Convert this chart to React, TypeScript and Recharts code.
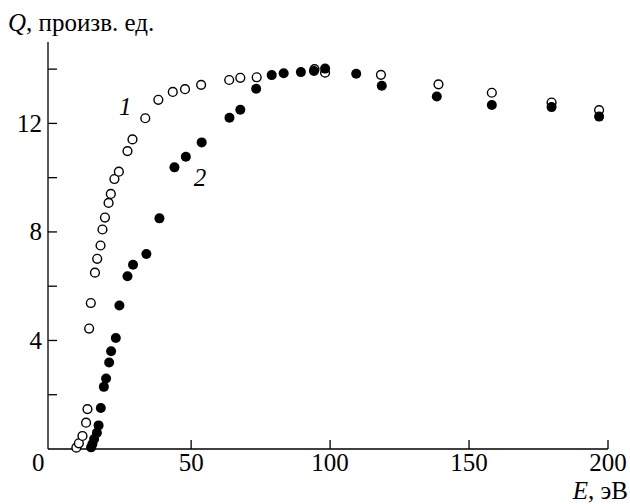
import { ScatterChart, Scatter, XAxis, YAxis, ReferenceDot, Label } from 'recharts';

// curve 1 (open circles)
const openE = [
  8.7, 9.6, 10.9, 12.2, 12.7, 13.3, 13.9, 15.4, 16.2, 17.4, 18.1, 19.0, 20.3, 21.1, 22.4, 24.0,
  27.1, 28.9, 33.5, 38.2, 43.4, 47.8, 53.6, 63.7, 67.7, 73.6, 94.4, 98.2, 118.3, 139.0, 158.2,
  179.7, 196.8,
];
const openQ = [
  0.05, 0.21, 0.48, 0.97, 1.47, 4.44, 5.38, 6.5, 7.01, 7.5, 8.09, 8.53, 9.07, 9.4, 9.95, 10.22,
  10.98, 11.41, 12.19, 12.87, 13.16, 13.26, 13.42, 13.6, 13.68, 13.7, 14.0, 13.87, 13.79, 13.44,
  13.13, 12.77, 12.49,
];

// curve 2 (filled circles)
const filledE = [
  14.0, 14.5, 15.1, 16.1, 16.7, 17.5, 18.6, 19.4, 20.5, 21.2, 22.9, 24.2, 27.1, 29.1, 33.9, 38.6,
  44.0, 48.1, 53.8, 63.8, 67.7, 73.4, 79.0, 83.3, 89.5, 94.2, 98.2, 109.4, 118.6, 138.4, 158.2,
  179.7, 196.8,
];
const filledQ = [
  0.06, 0.18, 0.37, 0.6, 0.87, 1.51, 2.29, 2.6, 3.19, 3.6, 4.09, 5.29, 6.37, 6.79, 7.19, 8.5,
  10.38, 10.77, 11.3, 12.21, 12.5, 13.28, 13.78, 13.85, 13.89, 13.93, 14.02, 13.83, 13.39, 12.99,
  12.68, 12.6, 12.25,
];

const xTicks = [0, 50, 100, 150, 200];
const yTicks = [0, 2, 4, 6, 8, 10, 12, 14];
const yLabelled = [4, 8, 12];

const openData = openE.map((e, i) => ({ e, q: openQ[i] }));
const filledData = filledE.map((e, i) => ({ e, q: filledQ[i] }));

const FONT = 'Liberation Serif';
const txt = { fontFamily: FONT, fontSize: 25, fill: '#000' };

const XTick = ({ x, y, payload }: any) => {
  const v = payload.value;
  return (
    <g>
      {v !== 0 && <line x1={x} y1={y} x2={x} y2={y - 9} stroke="#000" strokeWidth={1.3} />}
      <text x={v === 0 ? x - 14 : x} y={y + 22} textAnchor="middle" fontFamily={FONT} style={txt}>
        {v}
      </text>
    </g>
  );
};

const YTick = ({ x, y, payload }: any) => {
  const v = payload.value;
  return (
    <g>
      {v !== 0 && <line x1={x} y1={y} x2={x + 9} y2={y} stroke="#000" strokeWidth={1.3} />}
      {yLabelled.includes(v) && (
        <text x={x - 6} y={y + 8.5} textAnchor="end" fontFamily={FONT} style={txt}>
          {v}
        </text>
      )}
    </g>
  );
};

const OpenDot = (p: any) => (
  <circle cx={p.cx} cy={p.cy} r={4.4} fill="#fff" stroke="#000" strokeWidth={1.4} />
);
const FilledDot = (p: any) => <circle cx={p.cx} cy={p.cy} r={5} fill="#000" />;

const CurveLabel = (text: string) => (p: any) => (
  <text x={p.cx} y={p.cy} textAnchor="middle" fontFamily={FONT} style={{ ...txt, fontStyle: 'italic' }}>
    {text}
  </text>
);

export default function App() {
  return (
    <div
      style={{
        position: 'absolute',
        left: 0,
        top: 0,
        width: 630,
        height: 504,
        background: '#fff',
        fontFamily: FONT,
      }}
    >
      <ScatterChart
        width={630}
        height={504}
        margin={{ top: 42, right: 22, bottom: 0, left: 0 }}
        style={{ fontFamily: FONT }}
      >
        <XAxis
          type="number"
          dataKey="e"
          domain={[-1.5, 200]}
          ticks={xTicks}
          allowDataOverflow
          height={55}
          tickLine={false}
          tickSize={0}
          tickMargin={0}
          axisLine={{ stroke: '#000', strokeWidth: 1.3 }}
          tick={<XTick />}
          interval={0}
        >
          <Label
            content={() => (
              <text x={628} y={499} textAnchor="end" fontFamily={FONT} style={txt}>
                <tspan style={{ fontStyle: 'italic' }}>E</tspan>, эВ
              </text>
            )}
          />
        </XAxis>
        <YAxis
          type="number"
          dataKey="q"
          domain={[0, 15]}
          ticks={yTicks}
          width={48}
          tickLine={false}
          tickSize={0}
          tickMargin={0}
          axisLine={{ stroke: '#000', strokeWidth: 1.3 }}
          tick={<YTick />}
          interval={0}
        >
          <Label
            content={() => (
              <text x={8} y={31} textAnchor="start" fontFamily={FONT} style={txt}>
                <tspan style={{ fontStyle: 'italic' }}>Q</tspan>, произв. ед.
              </text>
            )}
          />
        </YAxis>
        <Scatter data={openData} shape={OpenDot} isAnimationActive={false} />
        <Scatter data={filledData} shape={FilledDot} isAnimationActive={false} />
        <ReferenceDot x={26.3} y={12.3} r={0} ifOverflow="visible" shape={CurveLabel('1')} />
        <ReferenceDot x={53.2} y={9.7} r={0} ifOverflow="visible" shape={CurveLabel('2')} />
      </ScatterChart>
    </div>
  );
}
